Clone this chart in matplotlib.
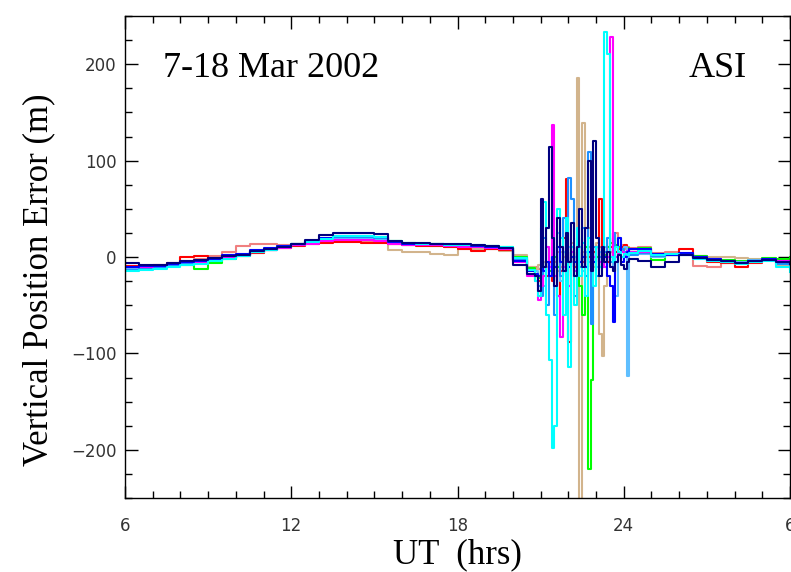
# -*- coding: utf8 -*-
"""
Vertical position error, 7-18 Mar 2002, station ASI.
"""
import numpy as np
import matplotlib
matplotlib.use('Agg')
from matplotlib import pyplot as plt
from matplotlib.ticker import MultipleLocator, FixedLocator, FixedFormatter

# sampling grids (UT hours)
hours_pre = np.arange(6.0, 20.51, 0.5)      # 30 points
hours_storm = np.arange(20.8, 24.21, 0.1)   # 35 points
hours_post = np.arange(24.5, 30.01, 0.5)    # 12 points

# values (m), one list per day
navy_pre = [-6, -8, -8, -6, -4, -3, -1, 1, 2, 6, 8, 10, 13, 18, 23, 25, 25, 25, 24, 17, 15, 15, 14, 13, 13, 12, 11, 9, -8, -18]
navy_storm = [-20, -35, 60, -10, 30, 114, 20, -30, 40, 10, -15, 25, -5, 35, -20, 10, 50, -10, 30, 100, -15, 120, 20, -20, 10, -5, 5, -10, -15, -5, 2, -8, -12, -5, -2]
navy_post = [-4, -10, -5, 2, -1, -3, -4, -6, -4, -3, -5, -7]

blue_pre = [-10, -9, -9, -7, -5, -4, -2, 2, 3, 7, 9, 11, 14, 17, 20, 22, 22, 22, 21, 16, 14, 13, 13, 12, 12, 11, 10, 9, -4, -15]
blue_storm = [-18, -20, -10, -15, -5, -20, 0, -10, 10, -5, -15, 5, -10, 0, -5, 10, -5, 0, -10, 5, 0, -5, 10, -10, 5, 0, -20, -30, -67, 10, 20, -5, 0, 5, 8]
blue_post = [8, 3, 2, 4, 0, -2, -4, -6, -4, -2, -5, -6]

cyan_pre = [-15, -14, -12, -10, -8, -7, -4, -2, 1, 5, 7, 10, 13, 16, 19, 22, 22, 22, 21, 17, 15, 14, 13, 12, 12, 12, 11, 10, -1, -13]
cyan_storm = [-25, -40, 30, 57, -60, -107, -198, -175, 50, 20, -60, 40, -114, 10, -50, 30, -20, 15, -40, 20, 5, -30, 10, -10, 5, 233, 211, 0, -5, 10, 5, 0, 3, 2, 4]
cyan_post = [6, 2, 3, 2, -2, -4, -5, -7, -5, -4, -10, -16]

deepsky_pre = [-13, -12, -11, -9, -7, -5, -3, -1, 2, 5, 7, 10, 12, 16, 19, 21, 21, 21, 20, 16, 14, 13, 12, 12, 12, 11, 10, 9, -3, -14]
deepsky_storm = [-20, -30, -40, 20, -50, -20, 30, -60, 10, -20, 40, -30, 82, 60, -40, 20, -10, 30, -20, 109, -70, 10, -20, 0, -10, 5, 20, -5, 25, 10, 5, 8, 5, 3, 2]
deepsky_post = [4, 1, 2, 3, -1, -3, -5, -6, -4, -3, -7, -12]

lightsky_pre = [-12, -11, -10, -8, -6, -5, -3, -1, 2, 5, 8, 10, 12, 15, 18, 20, 20, 20, 19, 15, 13, 13, 12, 11, 11, 11, 10, 9, -2, -13]
lightsky_storm = [-15, -20, -10, -30, 10, -20, 15, -10, 25, -25, 5, -15, 10, -5, 0, -10, 10, -15, 5, -5, 15, 0, -10, 5, -5, 10, 0, -10, 5, -40, 20, 8, 10, -123, 5]
lightsky_post = [3, 0, 2, 2, -1, -3, -4, -5, -3, -3, -6, -10]

magenta_pre = [-10, -10, -9, -7, -5, -5, -3, -1, 2, 5, 7, 9, 12, 14, 17, 18, 18, 18, 17, 14, 12, 12, 12, 11, 10, 10, 9, 8, -5, -20]
magenta_storm = [-25, -45, -30, -20, 10, -10, 137, -20, -40, -83, -10, 20, -30, 5, -15, 10, -5, 0, -10, 5, -5, 0, 10, -5, 5, -10, 0, 228, -5, 0, 3, 5, 2, 6, 5]
magenta_post = [5, 2, 3, 3, 0, -2, -5, -6, -5, -2, -4, -6]

red_pre = [-9, -9, -8, -6, 0, 1, -3, -1, 1, 4, 7, 9, 11, 13, 15, 16, 16, 15, 15, 13, 12, 11, 11, 10, 8, 6, 8, 7, -3, -14]
red_storm = [-20, -25, -15, -10, -20, -5, -25, -10, -40, -15, 20, 81, -88, 5, -10, 0, 10, -5, 5, 0, -10, 5, 10, 60, -10, 5, -5, 10, 25, 5, 8, 10, 12, 6, 8]
red_post = [7, 3, 2, 8, 0, -5, -6, -10, -6, -3, -4, -4]

green_pre = [-13, -12, -11, -9, -8, -12, -6, -2, 2, 5, 8, 10, 13, 16, 19, 21, 21, 21, 20, 17, 15, 14, 13, 12, 12, 11, 11, 10, 0, -11]
green_storm = [-18, -22, -15, -10, -5, -15, -8, 0, -10, -5, 5, -20, -5, 0, -10, 5, -30, -60, 10, -220, -128, -5, 0, 5, -5, 2, 10, 15, 20, 12, 10, 8, 10, 9, 8]
green_post = [9, -3, 2, 3, 1, -2, -3, -4, -3, -1, -2, 0]

tan_pre = [-12, -11, -10, -8, -6, -5, -3, -1, 1, 4, 7, 9, 12, 15, 18, 19, 19, 19, 18, 7, 5, 5, 3, 2, 8, 8, 8, 6, 2, -10]
tan_storm = [-12, -8, -10, -5, -10, -5, 0, -10, -15, 5, -10, 10, -5, 15, -20, 186, -270, 139, 10, 30, 20, -10, 15, -80, -103, -30, 10, 5, 0, 5, 8, 6, 5, 6, 5]
tan_post = [5, 2, 3, 3, 1, 0, 0, -1, -2, -2, -8, -10]

salmon_pre = [-14, -12, -10, -7, -4, -2, 1, 5, 11, 13, 13, 12, 14, 16, 17, 17, 17, 17, 16, 13, 12, 12, 11, 10, 10, 9, 8, 7, -1, -10]
salmon_storm = [-10, -12, -8, -5, -10, -5, 0, -5, 5, -10, 0, 5, -5, 10, 0, 5, -10, 5, 0, 10, -5, 5, 0, 10, 5, 0, 10, 5, 15, 25, 10, 12, 8, 10, 9]
salmon_post = [10, 4, 5, 3, -9, -10, -6, -5, -4, -3, -4, -5]

xtick_pos = [6, 12, 18, 24, 30]
xtick_labels = ['6', '12', '18', '24', '6']


def plot_day(ax, pre, storm, post, color):
    t = np.concatenate([hours_pre, hours_storm, hours_post])
    v = np.concatenate([pre, storm, post])
    ax.plot(t, v, color=color, lw=1.5, drawstyle='steps-post')


fig = plt.figure(figsize=(7.91, 5.72), dpi=100)
ax = fig.add_axes([125 / 791, 74 / 572, 665 / 791, 482 / 572])

plot_day(ax, salmon_pre, salmon_storm, salmon_post, '#f08080')
plot_day(ax, tan_pre, tan_storm, tan_post, '#d2b48c')
plot_day(ax, green_pre, green_storm, green_post, '#00ff00')
plot_day(ax, red_pre, red_storm, red_post, '#ff0000')
plot_day(ax, lightsky_pre, lightsky_storm, lightsky_post, '#5fbfff')
plot_day(ax, deepsky_pre, deepsky_storm, deepsky_post, '#1e90ff')
plot_day(ax, magenta_pre, magenta_storm, magenta_post, '#ff00ff')
plot_day(ax, blue_pre, blue_storm, blue_post, '#0000ff')
plot_day(ax, cyan_pre, cyan_storm, cyan_post, '#00ffff')
plot_day(ax, navy_pre, navy_storm, navy_post, '#000080')

ax.set_xlim(6, 30)
ax.set_ylim(-250, 250)

ax.xaxis.set_major_locator(FixedLocator(xtick_pos))
ax.xaxis.set_major_formatter(FixedFormatter(xtick_labels))
ax.xaxis.set_minor_locator(MultipleLocator(1))
ax.yaxis.set_major_locator(MultipleLocator(100))
ax.yaxis.set_minor_locator(MultipleLocator(25))

ax.tick_params(which='both', direction='in', top=True, right=True,
               color='black', width=1)
ax.tick_params(which='major', length=9, labelsize=12, labelcolor='#333333')
ax.tick_params(which='minor', length=5)
ax.tick_params(axis='x', which='major', pad=14)
ax.tick_params(axis='y', which='major', pad=6)
for sp in ax.spines.values():
    sp.set_linewidth(1)

serif = 'Liberation Serif'
ax.set_xlabel('UT  (hrs)', family=serif, fontsize=25, labelpad=2)
ax.set_ylabel('Vertical Position Error (m)', family=serif, fontsize=25)
ax.yaxis.set_label_coords(-0.105, 0.452)

ax.text(0.057, 0.892, '7-18 Mar 2002', transform=ax.transAxes,
        family=serif, fontsize=26, va='center', ha='left')
ax.text(0.935, 0.892, 'ASI', transform=ax.transAxes,
        family=serif, fontsize=26, va='center', ha='right')

fig.savefig('out.png', dpi=100)
